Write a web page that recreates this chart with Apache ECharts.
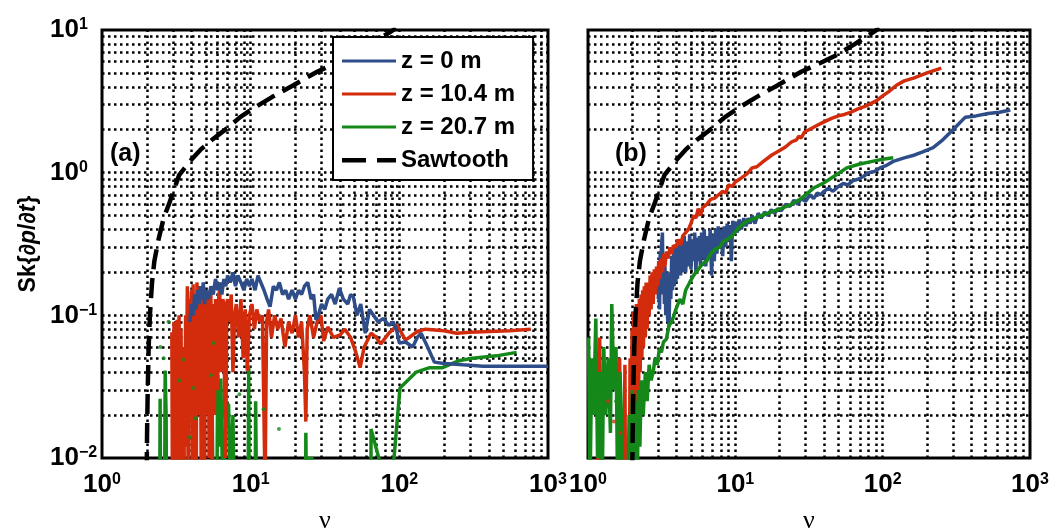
<!DOCTYPE html>
<html><head><meta charset="utf-8">
<script src="https://cdn.jsdelivr.net/npm/echarts@6/dist/echarts.min.js"></script>
<style>html,body{margin:0;padding:0;background:#fff}#c{width:1052px;height:531px}</style>
</head><body><div id="c"></div>
<script>
// ---- data (nu, Sk) ----
const seriesNames = ['z = 0 m', 'z = 10.4 m', 'z = 20.7 m', 'Sawtooth'];

const sawtooth = [[1.99,0.005],[2.01,0.015],[2.03,0.03],[2.06,0.06],[2.1,0.1],[2.17,0.17],[2.25,0.24],[2.4,0.34],[2.6,0.48],[2.85,0.62],[3.3,0.96],[3.9,1.2],[4.6,1.45],[5.5,1.7],[7.0,2.06],[8.5,2.45],[10.5,2.84],[14,3.4],[19.4,4.1],[28,5.1],[38,5.9],[49,6.7],[65,8.0],[87,9.7],[95,10.3]];

// panel (a)
const aBlue = [[3.9,0.09],[4.0,0.12],[4.1,0.1],[4.2,0.14],[4.3,0.11],[4.4,0.15],[4.5,0.12],[4.6,0.16],[4.7,0.13],[4.8,0.17],[4.9,0.12],[5.0,0.15],[5.2,0.13],[5.4,0.16],[5.6,0.14],[5.8,0.18],[6.0,0.15],[6.2,0.17],[6.4,0.14],[6.6,0.18],[6.8,0.16],[7.0,0.19],[7.3,0.17],[7.6,0.2],[7.9,0.16],[8.2,0.19],[8.6,0.17],[9.0,0.15],[9.4,0.18],[9.8,0.16],[10.2,0.18],[10.7,0.15],[11.2,0.19],[11.7,0.17],[12.3,0.15],[12.9,0.13],[13.5,0.115],[14.2,0.16],[14.9,0.15],[15.6,0.17],[16.4,0.14],[17.2,0.15],[18.0,0.13],[19.0,0.15],[20.0,0.13],[21,0.15],[22,0.14],[23,0.16],[24.2,0.17],[25.5,0.13],[26.5,0.14],[27.5,0.093],[28.5,0.1],[30,0.12],[31.5,0.11],[33,0.13],[35,0.14],[37,0.12],[39.5,0.155],[42,0.13],[45,0.12],[47,0.14],[49,0.135],[52,0.1],[55,0.12],[59,0.075],[63,0.11],[67,0.1],[72,0.09],[78,0.095],[85,0.085],[91,0.09],[96,0.078],[100,0.064],[110,0.065],[123,0.06],[132,0.07],[140,0.075],[155,0.06],[172,0.047],[200,0.046],[268,0.045],[365,0.044],[500,0.044],[700,0.044],[1000,0.044]];

const aRed = [[2.95,0.076],[2.98,0.004],[3.0,0.06],[3.03,0.01],[3.05,0.09],[3.08,0.02],[3.1,0.004],[3.13,0.05],[3.15,0.07],[3.18,0.008],[3.2,0.093],[3.23,0.03],[3.25,0.02],[3.28,0.07],[3.3,0.1],[3.33,0.015],[3.35,0.006],[3.38,0.05],[3.4,0.08],[3.45,0.01],[3.5,0.003],[3.55,0.06],[3.6,0.012],[3.65,0.1],[3.7,0.03],[3.75,0.16],[3.8,0.005],[3.85,0.13],[3.9,0.02],[3.95,0.11],[4.0,0.15],[4.05,0.008],[4.1,0.165],[4.15,0.03],[4.2,0.12],[4.25,0.01],[4.3,0.004],[4.35,0.17],[4.4,0.14],[4.45,0.02],[4.5,0.05],[4.55,0.16],[4.6,0.11],[4.65,0.006],[4.7,0.015],[4.75,0.12],[4.8,0.13],[4.85,0.03],[4.9,0.004],[4.95,0.14],[5.0,0.15],[5.05,0.02],[5.1,0.06],[5.15,0.13],[5.2,0.12],[5.25,0.01],[5.3,0.02],[5.35,0.15],[5.4,0.14],[5.45,0.05],[5.5,0.007],[5.55,0.12],[5.6,0.1],[5.7,0.02],[5.8,0.13],[5.9,0.05],[6.0,0.03],[6.1,0.14],[6.2,0.15],[6.3,0.04],[6.4,0.06],[6.5,0.13],[6.6,0.12],[6.7,0.02],[6.8,0.01],[6.9,0.12],[7.0,0.13],[7.2,0.09],[7.4,0.14],[7.6,0.04],[7.8,0.1],[8.0,0.12],[8.3,0.07],[8.6,0.13],[8.9,0.05],[9.2,0.11],[9.5,0.041],[9.8,0.1],[10.2,0.12],[10.6,0.08],[11.0,0.11],[11.5,0.09],[12.0,0.1],[12.5,0.006],[12.8,0.09],[13.2,0.11],[13.8,0.07],[14.5,0.1],[15.2,0.08],[16,0.095],[17,0.06],[18,0.09],[19,0.075],[20,0.1],[21,0.07],[22,0.09],[23,0.04],[23.5,0.018],[24,0.08],[25,0.1],[26.5,0.07],[28,0.09],[29.7,0.1],[31,0.066],[33,0.083],[36,0.07],[40,0.073],[43,0.08],[47,0.07],[51,0.055],[54.5,0.043],[58,0.06],[64.5,0.075],[70,0.07],[75,0.063],[85,0.075],[97,0.085],[110,0.067],[132,0.077],[150,0.08],[200,0.078],[243,0.075],[300,0.076],[405,0.077],[550,0.078],[765,0.08]];

const aGreen = [[2.44,0.003],[2.46,0.026],[2.48,0.003],null,
  [2.63,0.003],[2.66,0.041],[2.7,0.02],[2.72,0.003],null,
  [3.15,0.003],[3.2,0.019],[3.25,0.003],null,
  [3.5,0.003],[3.55,0.026],[3.6,0.003],null,
  [4.2,0.003],[4.25,0.034],[4.3,0.003],null,
  [5.4,0.003],[5.5,0.034],[5.6,0.003],[5.9,0.003],[6.0,0.038],[6.1,0.012],[6.3,0.036],[6.5,0.005],[6.8,0.02],[7.1,0.024],[7.3,0.006],[7.6,0.02],[7.8,0.003],null,
  [9.6,0.003],[9.7,0.044],[9.8,0.003],[10.7,0.003],[10.8,0.025],[11,0.003],null,
  [23.4,0.003],[23.5,0.015],[23.6,0.0099],[26.5,0.0099],null,
  [64.5,0.003],[64.5,0.016],[87,0.005],[101,0.031],[130,0.04],[160,0.043],[195,0.043],[250,0.048],[310,0.05],[450,0.052],[615,0.055]];
const aGreenDots = [[2.8,0.09],[2.47,0.06],[2.6,0.05],[3.3,0.035],[3.5,0.049],[3.9,0.014],[4.1,0.031],[4.25,0.019],[5.4,0.038],[5.6,0.064],[8.4,0.028],[12.2,0.022],[15.5,0.016]];

// panel (b)
const bBlue = [[3.0,0.13],[3.03,0.22],[3.06,0.11],[3.09,0.28],[3.12,0.14],[3.15,0.3],[3.2,0.38],[3.23,0.15],[3.27,0.25],[3.3,0.12],[3.33,0.22],[3.37,0.1],[3.4,0.2],[3.44,0.12],[3.48,0.09],[3.52,0.18],[3.55,0.083],[3.6,0.2],[3.65,0.13],[3.7,0.26],[3.75,0.15],[3.8,0.28],[3.85,0.16],[3.9,0.3],[3.95,0.17],[4.0,0.3],[4.05,0.18],[4.1,0.33],[4.15,0.2],[4.2,0.3],[4.25,0.19],[4.3,0.34],[4.35,0.2],[4.4,0.32],[4.45,0.22],[4.5,0.36],[4.6,0.2],[4.7,0.33],[4.8,0.22],[4.9,0.37],[5.0,0.21],[5.1,0.34],[5.2,0.24],[5.3,0.38],[5.4,0.2],[5.5,0.35],[5.6,0.24],[5.7,0.36],[5.8,0.22],[5.9,0.38],[6.0,0.25],[6.15,0.4],[6.3,0.22],[6.45,0.36],[6.6,0.26],[6.75,0.4],[6.9,0.19],[7.05,0.37],[7.2,0.24],[7.35,0.4],[7.5,0.27],[7.65,0.42],[7.8,0.3],[8.0,0.4],[8.2,0.26],[8.4,0.42],[8.6,0.3],[8.8,0.44],[9.0,0.33],[9.2,0.43],[9.4,0.24],[9.6,0.46],[9.8,0.37],[10.0,0.45],[10.3,0.38],[10.6,0.47],[11,0.4],[11.4,0.48],[11.8,0.42],[12.2,0.48],[12.6,0.44],[13,0.5],[13.6,0.44],[14.3,0.52],[15,0.48],[15.8,0.53],[16.6,0.5],[17.5,0.55],[18.5,0.52],[19.5,0.56],[20.5,0.54],[22,0.6],[23.5,0.58],[25,0.64],[26.5,0.6],[28,0.66],[30,0.63],[32,0.7],[34,0.66],[36,0.72],[38,0.7],[40,0.74],[43,0.78],[46,0.74],[50,0.8],[54,0.84],[58,0.82],[63,0.88],[68,0.9],[74,0.94],[80,1.0],[88,1.02],[96,1.08],[105,1.12],[118,1.2],[140,1.27],[165,1.33],[187,1.4],[220,1.5],[256,1.7],[300,2.0],[364,2.45],[430,2.5],[520,2.6],[620,2.65],[735,2.75]];

const bRed = [[1.15,0.003],[1.2,0.07],[1.25,0.003],null,
  [1.6,0.003],[1.64,0.05],[1.68,0.003],null,
  [1.75,0.003],[1.78,0.045],[1.8,0.003],null,
  [1.9,0.003],[1.93,0.05],[1.96,0.008],[1.99,0.08],[2.02,0.012],[2.04,0.105],[2.06,0.02],[2.08,0.1],[2.1,0.015],[2.13,0.12],[2.15,0.03],[2.18,0.11],[2.2,0.02],[2.23,0.13],[2.26,0.04],[2.29,0.14],[2.32,0.05],[2.35,0.15],[2.38,0.06],[2.41,0.16],[2.45,0.07],[2.48,0.17],[2.52,0.08],[2.56,0.17],[2.6,0.1],[2.64,0.19],[2.68,0.11],[2.72,0.2],[2.77,0.12],[2.82,0.21],[2.87,0.14],[2.92,0.22],[2.97,0.16],[3.02,0.24],[3.08,0.18],[3.14,0.25],[3.2,0.2],[3.26,0.27],[3.33,0.22],[3.4,0.28],[3.5,0.25],[3.6,0.3],[3.7,0.27],[3.8,0.31],[3.95,0.3],[4.1,0.34],[4.25,0.31],[4.4,0.36],[4.6,0.38],[4.8,0.4],[5.0,0.44],[5.2,0.5],[5.4,0.48],[5.6,0.56],[5.8,0.5],[6.0,0.57],[6.4,0.6],[6.8,0.65],[7.2,0.66],[7.7,0.7],[8.2,0.74],[8.6,0.72],[9.0,0.82],[9.5,0.8],[10,0.86],[11,0.92],[12,0.98],[13,1.08],[14,1.1],[15.5,1.2],[17.7,1.33],[20,1.43],[22,1.52],[24,1.64],[26,1.7],[27,1.8],[28,1.75],[29.5,1.93],[33,2.05],[36,2.15],[40,2.27],[45,2.4],[50,2.5],[55,2.56],[61,2.66],[68,2.8],[75,2.9],[83,3.05],[91,3.2],[100,3.45],[110,3.7],[124,4.1],[140,4.4],[162,4.6],[200,5.0],[250,5.4]];
const bRedDots = [[1.37,0.025],[1.5,0.018],[1.66,0.015]];

const bGreen = [[1.01,0.07],[1.03,0.005],[1.06,0.05],[1.09,0.02],[1.13,0.095],[1.16,0.01],[1.2,0.04],[1.24,0.003],[1.28,0.06],[1.32,0.02],[1.37,0.05],[1.42,0.015],[1.45,0.12],[1.5,0.03],[1.55,0.06],[1.6,0.003],[1.65,0.04],[1.7,0.015],[1.74,0.003],null,
  [1.85,0.003],[1.9,0.02],[1.95,0.003],[2.0,0.03],[2.05,0.006],[2.1,0.025],[2.15,0.004],[2.2,0.03],[2.25,0.012],[2.3,0.035],[2.37,0.02],[2.45,0.04],[2.52,0.025],[2.6,0.045],[2.68,0.035],[2.77,0.04],[2.85,0.05],[2.95,0.045],[3.05,0.058],[3.15,0.055],[3.25,0.065],[3.4,0.068],[3.55,0.085],[3.7,0.09],[3.95,0.11],[4.2,0.13],[4.4,0.12],[4.6,0.15],[4.9,0.17],[5.2,0.19],[5.6,0.21],[6.0,0.23],[6.4,0.24],[6.8,0.27],[7.3,0.29],[7.8,0.3],[8.3,0.33],[8.8,0.34],[9.5,0.36],[10.5,0.41],[11.7,0.45],[13,0.47],[15,0.5],[17.5,0.53],[20.4,0.56],[24,0.6],[28,0.66],[34,0.78],[40,0.85],[48,0.96],[57,1.08],[70,1.15],[85,1.2],[100,1.24],[118,1.27]];
const bGreenDots = [[1.55,0.025],[1.2,0.015]];

// ---- styling ----
const COL = {blue:'#2f4d88', red:'#d22c0c', green:'#14891a', black:'#000'};
const FONT = 'Liberation Sans';
const sup = v => String(Math.round(Math.log10(v))).replace('-', '\u2212');
const tickFmt = v => '{b|10}{s|' + sup(v) + '}';
const richTick = {
  b:{fontSize:26, fontWeight:'bold', fontFamily:FONT, color:'#000'},
  s:{fontSize:16, fontWeight:'bold', fontFamily:FONT, color:'#000', verticalAlign:'top'}
};

// dotted grid-line positions (major + minor lines of each log decade)
function decadeLines(lo, hi){
  const out=[];
  for(let e=lo;e<hi;e++){ for(let m=1;m<=9;m++){ const v=m*Math.pow(10,e); if(v>Math.pow(10,lo)) out.push(+v.toPrecision(3)); } }
  return out;
}
const xGridVals = decadeLines(0,3);
const yGridVals = decadeLines(-2,1);
const gridLineStyle = {type:[2.5,3.5], width:2.5, color:'#000'};
function gridSeries(i){
  return {type:'line', data:[], xAxisIndex:i, yAxisIndex:i, z:1, silent:true,
    markLine:{silent:true, z:1, symbol:['none','none'], animation:false, label:{show:false},
      lineStyle:gridLineStyle, emphasis:{disabled:true},
      data: xGridVals.map(v=>({xAxis:v})).concat(yGridVals.map(v=>({yAxis:v})))}};
}
const toData = arr => arr.map(p => p ? p : [null,null]);
function lineS(name, arr, color, i, extra){
  return Object.assign({name, type:'line', data:toData(arr), xAxisIndex:i, yAxisIndex:i, symbol:'none',
    connectNulls:false, clip:true, z:3, lineStyle:{color, width:3.5}, itemStyle:{color}, animation:false}, extra||{});
}
function dotS(name, arr, color, i){
  return {name, type:'scatter', data:arr, xAxisIndex:i, yAxisIndex:i, symbolSize:4, itemStyle:{color}, z:3, animation:false, silent:true};
}
const sawStyle = {lineStyle:{color:'#000', width:4.5, type:[20,9]}, itemStyle:{color:'#000'}, z:3};

function xAxisDef(i){
  return {type:'log', logBase:10, gridIndex:i, min:1, max:1000, name:'\u03bd', nameLocation:'middle', nameGap:50,
    nameTextStyle:{fontFamily:'Liberation Serif', fontSize:26, color:'#000'},
    axisLine:{show:false}, axisTick:{show:false}, splitLine:{show:false},
    axisLabel:{formatter:tickFmt, rich:richTick, margin:14, showMinLabel:true, showMaxLabel:true}};
}
function yAxisDef(i){
  const d = {type:'log', logBase:10, gridIndex:i, min:0.01, max:10,
    axisLine:{show:false}, axisTick:{show:false}, splitLine:{show:false},
    axisLabel:{show:i===0, formatter:tickFmt, rich:richTick, margin:52, align:'left', showMinLabel:true, showMaxLabel:true}};
  if(i===0){
    d.name = 'Sk{\u2202{i|p}/\u2202{i|t}}';
    d.nameLocation='middle'; d.nameRotate=90; d.nameGap=62;
    d.nameTextStyle={fontFamily:FONT, fontSize:23, fontWeight:'bold', color:'#000',
      rich:{i:{fontFamily:FONT, fontSize:23, fontWeight:'bold', fontStyle:'italic', color:'#000'}}};
  }
  return d;
}

const solidIcon = 'path://M0,0h0.01v0.01h-0.01zM0,5.5h54v3h-54zM53.99,13.99h0.01v0.01h-0.01z';
const dashIcon = 'path://M0,0h0.01v0.01h-0.01zM0,5h24v4.5h-24zM35,5h19v4.5h-19zM53.99,13.99h0.01v0.01h-0.01z';

const option = {
  animation:false,
  backgroundColor:'#fff',
  grid:[
    {left:102, top:30, width:446, height:428, outerBoundsMode:'none', containLabel:false, show:true, borderWidth:3, borderColor:'#000', backgroundColor:'#fff'},
    {left:588, top:30, width:442, height:428, outerBoundsMode:'none', containLabel:false, show:true, borderWidth:3, borderColor:'#000', backgroundColor:'#fff'}
  ],
  title:[
    {text:'(a)', left:108, top:142, padding:[0,2], backgroundColor:'#fff', textStyle:{fontFamily:FONT, fontSize:25, fontWeight:'bold', color:'#000'}},
    {text:'(b)', left:613, top:142, padding:[0,2], backgroundColor:'#fff', textStyle:{fontFamily:FONT, fontSize:25, fontWeight:'bold', color:'#000'}}
  ],
  legend:{z:10, orient:'vertical', left:333, top:37, itemWidth:54, itemHeight:14, itemGap:9,
    data:[{name:seriesNames[0], icon:solidIcon},{name:seriesNames[1], icon:solidIcon},{name:seriesNames[2], icon:solidIcon},{name:seriesNames[3], icon:dashIcon}],
    padding:[12,18,8,9], borderColor:'#000', borderWidth:2, backgroundColor:'#fff', selectedMode:false,
    textStyle:{fontFamily:FONT, fontSize:24, fontWeight:'bold', color:'#000'}},
  xAxis:[xAxisDef(0), xAxisDef(1)],
  yAxis:[yAxisDef(0), yAxisDef(1)],
  series:[
    gridSeries(0), gridSeries(1),
    dotS('dots a', aGreenDots, COL.green, 0),
    lineS(seriesNames[2], aGreen, COL.green, 0),
    lineS(seriesNames[1], aRed, COL.red, 0),
    lineS(seriesNames[0], aBlue, COL.blue, 0),
    lineS(seriesNames[3], sawtooth, '#000', 0, sawStyle),
    dotS('dots b', bGreenDots, COL.green, 1),
    dotS('dots b red', bRedDots, COL.red, 1),
    lineS(seriesNames[0], bBlue, COL.blue, 1),
    lineS(seriesNames[1], bRed, COL.red, 1),
    lineS(seriesNames[2], bGreen, COL.green, 1),
    lineS(seriesNames[3], sawtooth, '#000', 1, sawStyle)
  ]
};
const chart = echarts.init(document.getElementById('c'), null, {renderer:'canvas'});
chart.setOption(option);
</script></body></html>
